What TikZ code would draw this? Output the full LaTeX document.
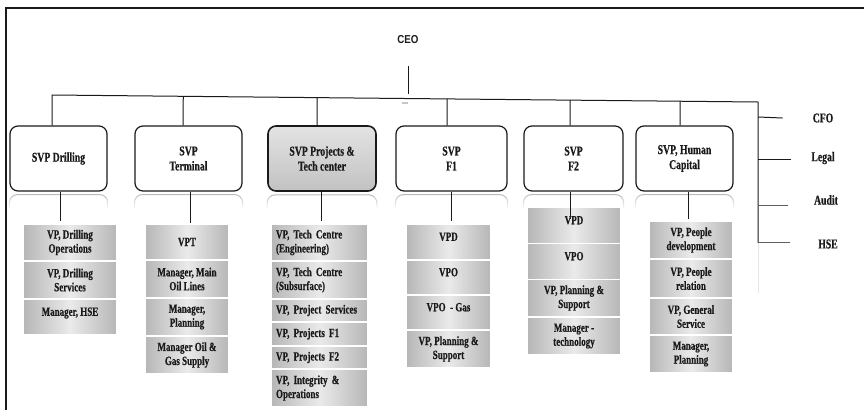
\documentclass[tikz,border=0pt]{standalone}
\usepackage{fontspec}
\setmainfont{Liberation Serif}[FakeStretch=0.72, BoldFeatures={FakeBold=0.5}]
\newfontfamily\ceofont{Liberation Sans}[FakeStretch=0.85]
\usetikzlibrary{calc,fadings}

\definecolor{ink}{HTML}{1A1A1A}
\definecolor{boxedge}{HTML}{B6B6B6}
\definecolor{boxmid}{HTML}{EAEAEA}

% faded mirror image under a rounded SVP box
\newcommand\mirrorbox[1]{%
  \draw[refl, rounded corners=8pt]
    ([yshift=-17pt]#1.south west) -- ([yshift=-3pt]#1.south west)
    -- ([yshift=-3pt]#1.south east) -- ([yshift=-17pt]#1.south east);}

\begin{document}
\begin{tikzpicture}[x=1pt,y=-1pt,
  svpbox/.style={draw=ink, line width=1.2pt, rounded corners=8pt, fill=white,
    align=center, font=\bfseries\fontsize{13.5}{15}\selectfont, text=ink,
    inner sep=0pt, minimum height=65pt},
  unitbox/.style={left color=boxedge, right color=boxedge, middle color=boxmid,
    draw=white, line width=1.2pt, align=center,
    font=\bfseries\fontsize{12.5}{14}\selectfont, text=ink, inner sep=0pt},
  colA/.style={unitbox, minimum width=94pt},
  colB/.style={unitbox, minimum width=84pt},
  colC/.style={unitbox, minimum width=97pt, align=left, text width=87pt, inner xsep=5pt},
  colD/.style={unitbox, minimum width=85pt},
  colE/.style={unitbox, minimum width=94pt},
  colF/.style={unitbox, minimum width=84pt},
  raised/.style={text height=7.5pt, text depth=10pt},
  link/.style={draw=ink, line width=1pt},
  refl/.style={draw=gray!55, line width=1pt, path fading=south},
  sidelabel/.style={font=\bfseries\fontsize{13.5}{14}\selectfont, text=ink, inner sep=0pt},
]
\useasboundingbox (0,0) rectangle (864,410);

% page frame
\draw[ink, line width=2pt] (5,8) -- (864,8);
\draw[ink, line width=2pt] (6,7) -- (6,410);

% top of the chart
\node[font=\ceofont\bfseries\fontsize{11.5}{12}\selectfont, text=ink, inner sep=0pt] (ceo) at (408,40) {CEO};

% senior vice presidents
\node[svpbox, minimum width=97pt] (s1) at (58.5,158.5) {SVP Drilling};
\node[svpbox, minimum width=107pt] (s2) at (188.5,158.5) {SVP\\Terminal};
\node[svpbox, minimum width=108pt, line width=1.6pt, top color=gray!22, middle color=white, bottom color=gray!48] (s3) at (322,158.5) {SVP Projects \&\\Tech center};
\node[svpbox, minimum width=111pt] (s4) at (451.5,158.5) {SVP\\F1};
\node[svpbox, minimum width=99pt] (s5) at (573.5,158.5) {SVP\\F2};
\node[svpbox, minimum width=97pt] (s6) at (684.5,158.5) {SVP, Human\\Capital};

\mirrorbox{s1}\mirrorbox{s2}\mirrorbox{s3}\mirrorbox{s4}\mirrorbox{s5}\mirrorbox{s6}

% staff functions
\node[sidelabel] (cfo) at (823,118) {CFO};
\node[sidelabel] (legal) at (823,158) {Legal};
\node[sidelabel] (audit) at (826,200) {Audit};
\node[sidelabel] (hse) at (828,244) {HSE};

% drilling
\node[colA, minimum height=36pt] (a1) at (70,242.5) {VP, Drilling\\Operations};
\node[colA, minimum height=37pt] (a2) at (70,280) {VP, Drilling\\Services};
\node[colA, minimum height=35pt, raised] (a3) at (70,317) {Manager, HSE};

% terminal
\node[colB, minimum height=35pt] (b1) at (187,242) {VPT};
\node[colB, minimum height=37pt] (b2) at (187,279) {Manager, Main\\Oil Lines};
\node[colB, minimum height=37pt] (b3) at (187,317) {Manager,\\Planning};
\node[colB, minimum height=37pt] (b4) at (187,355) {Manager Oil \&\\Gas Supply};

% projects and tech centre
\node[colC, minimum height=36pt] (c1) at (319.5,242.5) {VP, Tech Centre\\(Engineering)};
\node[colC, minimum height=37pt] (c2) at (319.5,280) {VP, Tech Centre\\(Subsurface)};
\node[colC, minimum height=22pt] (c3) at (319.5,310.5) {VP, Project Services};
\node[colC, minimum height=23pt] (c4) at (319.5,334) {VP, Projects F1};
\node[colC, minimum height=22pt] (c5) at (319.5,357.5) {VP, Projects F2};
\node[colC, minimum height=37pt] (c6) at (319.5,388) {VP, Integrity \&\\Operations};

% F1
\node[colD, minimum height=35pt, raised] (e1) at (448.5,242) {VPD};
\node[colD, minimum height=34pt, raised] (e2) at (448.5,277.5) {VPO};
\node[colD, minimum height=34pt, raised] (e3) at (448.5,312.5) {VPO \ - Gas};
\node[colD, minimum height=37pt] (e4) at (448.5,349) {VP, Planning \&\\Support};

% F2
\node[colE, minimum height=36pt, raised] (f1) at (574,225.5) {VPD};
\node[colE, minimum height=36pt, raised] (f2) at (574,261.5) {VPO};
\node[colE, minimum height=37pt] (f3) at (574,298) {VP, Planning \&\\Support};
\node[colE, minimum height=37pt] (f4) at (574,336) {Manager -\\technology};

% human capital
\node[colF, minimum height=37pt] (g1) at (691,240) {VP, People\\development};
\node[colF, minimum height=38pt] (g2) at (691,278.5) {VP, People\\relation};
\node[colF, minimum height=36pt] (g3) at (691,316.5) {VP, General\\Service};
\node[colF, minimum height=37pt] (g4) at (691,354) {Manager,\\Planning};

% main reporting bar
\coordinate (barL) at (52,95);
\coordinate (barR) at (758,102);
\coordinate (railEnd) at (758,243);
\coordinate (t1) at ([xshift=-6.5pt]s1.north);
\coordinate (t2) at ([xshift=-5.5pt]s2.north);
\coordinate (t3) at ([xshift=-5pt]s3.north);
\coordinate (t4) at ([xshift=-4.5pt]s4.north);
\coordinate (t5) at ([xshift=-3.5pt]s5.north);
\coordinate (t6) at ([xshift=-4.5pt]s6.north);

\draw[link] (t1) -- (barL) -- (barR) -- (railEnd);
\draw[draw=gray!20, line width=0.8pt] (railEnd) -- ++(0,50);
\foreach \t in {t2,t3,t4,t5,t6}
  \draw[link] ($(barL)!(\t)!(barR)$) -- (\t);

% CEO drop
\draw[link] ([yshift=-22pt]ceo.south) -- ([yshift=-50pt]ceo.south);
\fill[gray!45] (402,101.5) rectangle (408,104);

% staff ticks
\draw[link] ([yshift=1pt]cfo.west -| barR) -- ([xshift=-30pt]cfo.west);
\draw[link] ([yshift=-1pt]legal.west -| barR) -- ([xshift=-20pt, yshift=-1pt]legal.west);
\draw[draw=ink!70, line width=0.9pt] ([yshift=-5pt]audit.west -| barR) -- ([xshift=-26pt, yshift=-5pt]audit.west);
\draw[draw=ink!70, line width=0.9pt] ([yshift=2pt]hse.west -| barR) -- ([xshift=-28pt, yshift=2pt]hse.west);

% links to vice presidents
\draw[link] ([xshift=1.5pt]s1.south) -- ([xshift=-10pt, yshift=3pt]a1.north);
\draw[link] ([xshift=1.5pt]s2.south) -- ([xshift=3pt, yshift=1pt]b1.north);
\draw[link] ([xshift=-1pt]s3.south) -- ([xshift=1.5pt, yshift=3pt]c1.north);
\draw[link] ([xshift=-0.5pt]s4.south) -- ([xshift=2.5pt, yshift=3pt]e1.north);
\draw[link] ([xshift=-3.5pt]s5.south) -- ([xshift=-4pt, yshift=-12pt]f1.north);
\draw[link] ([xshift=3.5pt]s6.south) -- ([xshift=-3pt, yshift=2pt]g1.north);
\end{tikzpicture}
\end{document}
